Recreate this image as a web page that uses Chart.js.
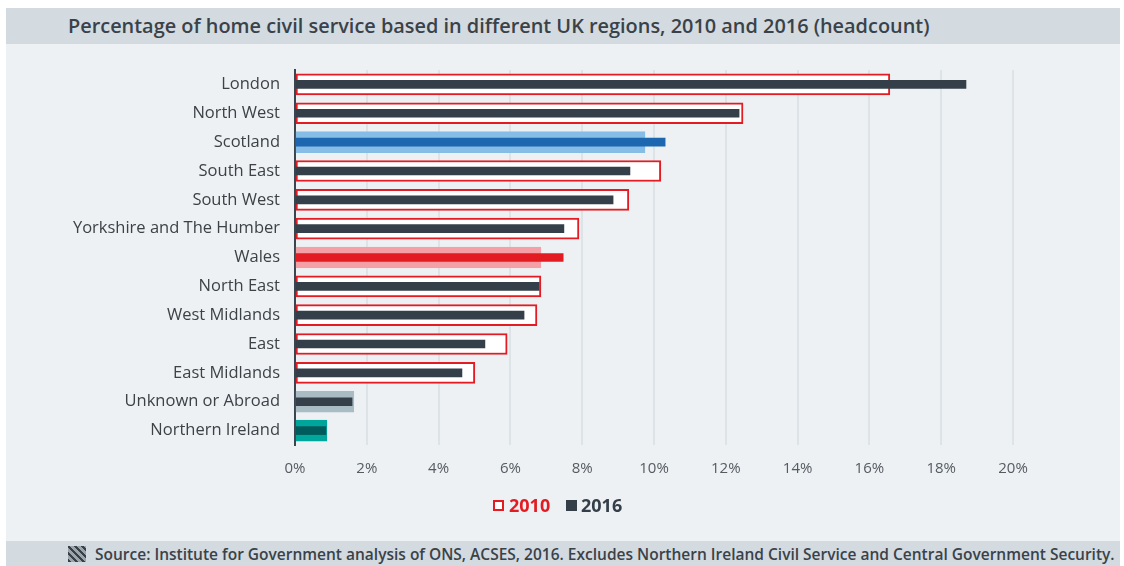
<!DOCTYPE html>
<html><head><meta charset="utf-8">
<script src="https://cdn.jsdelivr.net/npm/chart.js@4.4.1/dist/chart.umd.min.js"></script>
<style>
html,body{margin:0;padding:0;background:#fff;width:1124px;height:566px;overflow:hidden;font-family:"Open Sans",sans-serif;}
#title{position:absolute;left:6px;top:8px;width:1114px;height:36px;background:#d3dae0;color:#3a4249;font-weight:600;font-size:19.9px;line-height:36px;box-sizing:border-box;padding-left:62px;white-space:nowrap;}
#main{position:absolute;left:6px;top:44px;width:1114px;height:497px;background:#edf1f4;}
#footer{position:absolute;left:6px;top:541px;width:1114px;height:25px;background:#d3dae0;color:#3a4249;font-weight:600;font-size:15.5px;line-height:26px;padding-left:89px;box-sizing:border-box;white-space:nowrap;}
#icon{position:absolute;left:62px;top:5px;width:18px;height:16px;background:repeating-linear-gradient(45deg,#3b4046 0 2.5px,#9aa5ae 2.5px 5px);}
.lg{position:absolute;top:493px;height:24px;line-height:24px;font-weight:700;font-size:18px;font-family:"Open Sans",sans-serif;}
.box{position:absolute;top:500px;width:11px;height:11px;box-sizing:border-box;}
</style></head><body>
<div id="title">Percentage of home civil service based in different UK regions, 2010 and 2016 (headcount)</div>
<div id="main"><canvas id="c" width="1114" height="497"></canvas></div>
<div class="box" style="left:493px;border:2px solid #e31b23;background:#fff;"></div>
<div class="lg" id="l2010" style="left:509px;color:#e31b23;"></div>
<div class="box" style="left:566px;background:#343f4a;"></div>
<div class="lg" id="l2016" style="left:581px;color:#343f4a;"></div>
<div id="footer"><div id="icon"></div>Source: Institute for Government analysis of ONS, ACSES, 2016. Excludes Northern Ireland Civil Service and Central Government Security.</div>
<script>
const categories = ["London","North West","Scotland","South East","South West","Yorkshire and The Humber","Wales","North East","West Midlands","East","East Midlands","Unknown or Abroad","Northern Ireland"];
const values2010 = [16.57,12.48,9.75,10.19,9.30,7.91,6.85,6.85,6.74,5.91,5.01,1.64,0.89];
const values2016 = [18.69,12.37,10.31,9.33,8.86,7.49,7.47,6.80,6.38,5.29,4.65,1.59,0.86];
const tickLabels = ["0%","2%","4%","6%","8%","10%","12%","14%","16%","18%","20%"];
const seriesNames = ["2010","2016"];

document.getElementById('l2010').textContent = seriesNames[0];
document.getElementById('l2016').textContent = seriesNames[1];

const RED='#e31b23', DARK='#343f4a';
const special = {'Scotland':['#85bde6','#1d66b0'],'Wales':['#f4a0a6','#e31b23'],'Unknown or Abroad':['#aabcc3',DARK],'Northern Ireland':['#00a59b','#005c5c']};
const fill2010 = categories.map(c => special[c]?special[c][0]:'#ffffff');
const border2010 = categories.map(c => special[c]?special[c][0]:RED);
const fill2016 = categories.map(c => special[c]?special[c][1]:DARK);

new Chart(document.getElementById('c'),{
  type:'bar',
  data:{labels:categories,datasets:[
    {label:seriesNames[1],data:values2016,backgroundColor:fill2016,borderWidth:0,barThickness:8,grouped:false,order:0},
    {label:seriesNames[0],data:values2010,backgroundColor:fill2010,borderColor:border2010,borderWidth:2,borderSkipped:false,barThickness:21,grouped:false,order:1}
  ]},
  options:{
    indexAxis:'y',responsive:false,animation:false,
    layout:{padding:{top:26,right:107,bottom:60,left:0}},
    scales:{
      x:{min:0,max:20,
        ticks:{stepSize:2,padding:15,color:'#555b61',font:{family:'Open Sans',size:15},callback:(v,i)=>tickLabels[i]},
        grid:{color:'#dde4e8',lineWidth:2,drawTicks:false},
        border:{display:false},
        afterFit:s=>{s.height=36;}
      },
      y:{
        ticks:{padding:15,color:'#3d4246',font:{family:'Open Sans',size:16.5}},
        grid:{display:false,drawTicks:false},
        border:{display:true,color:'#3a4550',width:2},
        afterFit:s=>{s.width=289;}
      }
    },
    plugins:{tooltip:{enabled:false},legend:{display:false}}
  }
});
</script>
</body></html>
